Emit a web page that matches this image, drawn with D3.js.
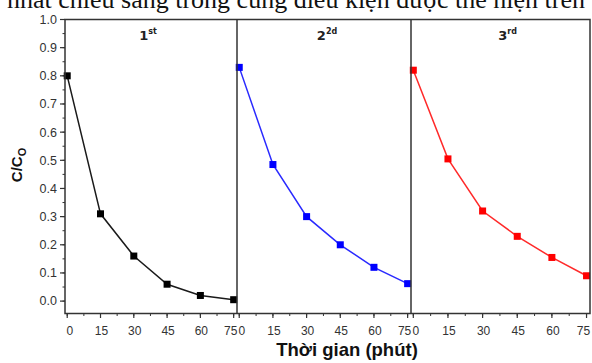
<!doctype html>
<html lang="vi">
<head>
  <meta charset="utf-8">
  <title>C/Co theo thời gian</title>
  <script src="https://d3js.org/d3.v7.min.js"></script>
  <style>
    body { margin: 0; background: #fff; }
    svg { display: block; }
  </style>
</head>
<body>
  <div id="chart"></div>
  <script>
    // data
    var times = [0, 15, 30, 45, 60, 75];
    var run1 = [0.80, 0.31, 0.16, 0.06, 0.02, 0.005];
    var run2 = [0.83, 0.485, 0.30, 0.20, 0.12, 0.062];
    var run3 = [0.82, 0.505, 0.32, 0.23, 0.155, 0.09];
    var runNames = ['1', '2', '3'];
    var runSups = ['st', '2d', 'rd'];
    var yTicks = [0, 0.1, 0.2, 0.3, 0.4, 0.5, 0.6, 0.7, 0.8, 0.9, 1.0];
    var xTicks = [0, 15, 30, 45, 60, 75];

    var width = 592, height = 363;
    var plotTop = 19.5, plotBottom = 313.5;
    // left/right edge of each panel
    var panels = [[65, 237], [237, 411], [411, 590]];
    var labelShift = [-3, 3, 7];
    var colors = ['#000000', '#0000ff', '#ff0000'];
    var lineColors = ['#1a1a1a', '#2a2aff', '#ff2a2a'];
    var series = [run1, run2, run3];

    var svg = d3.select('#chart').append('svg')
      .attr('width', width).attr('height', height);

    // cropped line of text from the page above the figure
    svg.append('text')
      .attr('x', 585).attr('y', 8)
      .attr('text-anchor', 'end')
      .style('font-family', '"Liberation Serif", "Times New Roman", serif')
      .style('font-size', '26px')
      .attr('fill', '#111')
      .text('nhất chiếu sáng trong cùng điều kiện được thể hiện trên');

    var y = d3.scaleLinear().domain([-0.044, 1.0]).range([plotBottom, plotTop]);

    // y axis
    var yAxis = svg.append('g').attr('transform', 'translate(65,0)');
    yAxis.selectAll('.minor').data(d3.range(0, 1.0001, 0.05)).enter()
      .append('line')
      .attr('x1', -2.5).attr('x2', 0)
      .attr('y1', function(d) { return y(d); })
      .attr('y2', function(d) { return y(d); })
      .attr('stroke', '#333').attr('stroke-width', 1);
    yAxis.selectAll('.major').data(yTicks).enter()
      .append('line')
      .attr('x1', -5).attr('x2', 0)
      .attr('y1', function(d) { return y(d); })
      .attr('y2', function(d) { return y(d); })
      .attr('stroke', '#333').attr('stroke-width', 1.2);
    yAxis.selectAll('.lab').data(yTicks).enter()
      .append('text')
      .attr('x', -8)
      .attr('y', function(d) { return y(d); })
      .attr('dy', '0.35em')
      .attr('text-anchor', 'end')
      .style('font-family', 'Arial, "Liberation Sans", sans-serif')
      .style('font-size', '12.5px')
      .attr('fill', '#333')
      .text(function(d) { return d3.format('.1f')(d); });

    var line = d3.line();

    panels.forEach(function(p, i) {
      var x = d3.scaleLinear().domain([-1, 76.5]).range([p[0], p[1]]);
      var g = svg.append('g');

      // x ticks
      g.selectAll('.xminor').data(d3.range(0, 75.1, 7.5)).enter()
        .append('line')
        .attr('x1', function(d) { return x(d); })
        .attr('x2', function(d) { return x(d); })
        .attr('y1', plotBottom).attr('y2', plotBottom + 2.5)
        .attr('stroke', '#333').attr('stroke-width', 1);
      g.selectAll('.xmajor').data(xTicks).enter()
        .append('line')
        .attr('x1', function(d) { return x(d); })
        .attr('x2', function(d) { return x(d); })
        .attr('y1', plotBottom).attr('y2', plotBottom + 4.5)
        .attr('stroke', '#333').attr('stroke-width', 1.2);
      g.selectAll('.xlab').data(xTicks).enter()
        .append('text')
        .attr('x', function(d) {
          if (d === 0) return x(d) + 2.5;
          if (d === 75) return x(d) - 3;
          return x(d) + 1;
        })
        .attr('y', 335)
        .attr('text-anchor', 'middle')
        .style('font-family', 'Arial, "Liberation Sans", sans-serif')
        .style('font-size', '12px')
        .attr('fill', '#333')
        .text(function(d) { return d; });

      // data line and square markers
      var pts = times.map(function(t, j) { return [x(t), y(series[i][j])]; });
      g.append('path')
        .attr('d', line(pts))
        .attr('fill', 'none')
        .attr('stroke', lineColors[i])
        .attr('stroke-width', 1.5);
      g.selectAll('.pt').data(pts).enter()
        .append('rect')
        .attr('x', function(d) { return d[0] - 3.5; })
        .attr('y', function(d) { return d[1] - 3.5; })
        .attr('width', 7).attr('height', 7)
        .attr('fill', colors[i]);

      // panel label
      var lab = g.append('text')
        .attr('x', (p[0] + p[1]) / 2 + labelShift[i])
        .attr('y', 40)
        .attr('text-anchor', 'middle')
        .style('font-family', '"DejaVu Sans", Arial, sans-serif')
        .style('font-weight', 'bold')
        .style('font-size', '13px')
        .attr('fill', '#222');
      lab.append('tspan').text(runNames[i]);
      lab.append('tspan')
        .attr('dy', -6)
        .style('font-size', '8px')
        .text(runSups[i]);
    });

    // frame and panel dividers
    svg.append('rect')
      .attr('x', 65).attr('y', plotTop)
      .attr('width', 590 - 65).attr('height', plotBottom - plotTop)
      .attr('fill', 'none').attr('stroke', '#333').attr('stroke-width', 1.5);
    panels.slice(1).forEach(function(p) {
      svg.append('line')
        .attr('x1', p[0]).attr('x2', p[0])
        .attr('y1', plotTop).attr('y2', plotBottom)
        .attr('stroke', '#333').attr('stroke-width', 1.5);
    });

    // axis titles
    var yt = svg.append('text')
      .attr('transform', 'translate(22,165) rotate(-90)')
      .attr('text-anchor', 'middle')
      .style('font-family', 'Arial, "Liberation Sans", sans-serif')
      .style('font-weight', 'bold')
      .style('font-size', '15px')
      .attr('fill', '#111');
    yt.append('tspan').text('C/C');
    yt.append('tspan').attr('dy', 4).style('font-size', '11px').text('O');

    svg.append('text')
      .attr('x', 347).attr('y', 356)
      .attr('text-anchor', 'middle')
      .style('font-family', 'Arial, "Liberation Sans", sans-serif')
      .style('font-weight', 'bold')
      .style('font-size', '18.5px')
      .attr('fill', '#111')
      .text('Thời gian (phút)');
  </script>
</body>
</html>
